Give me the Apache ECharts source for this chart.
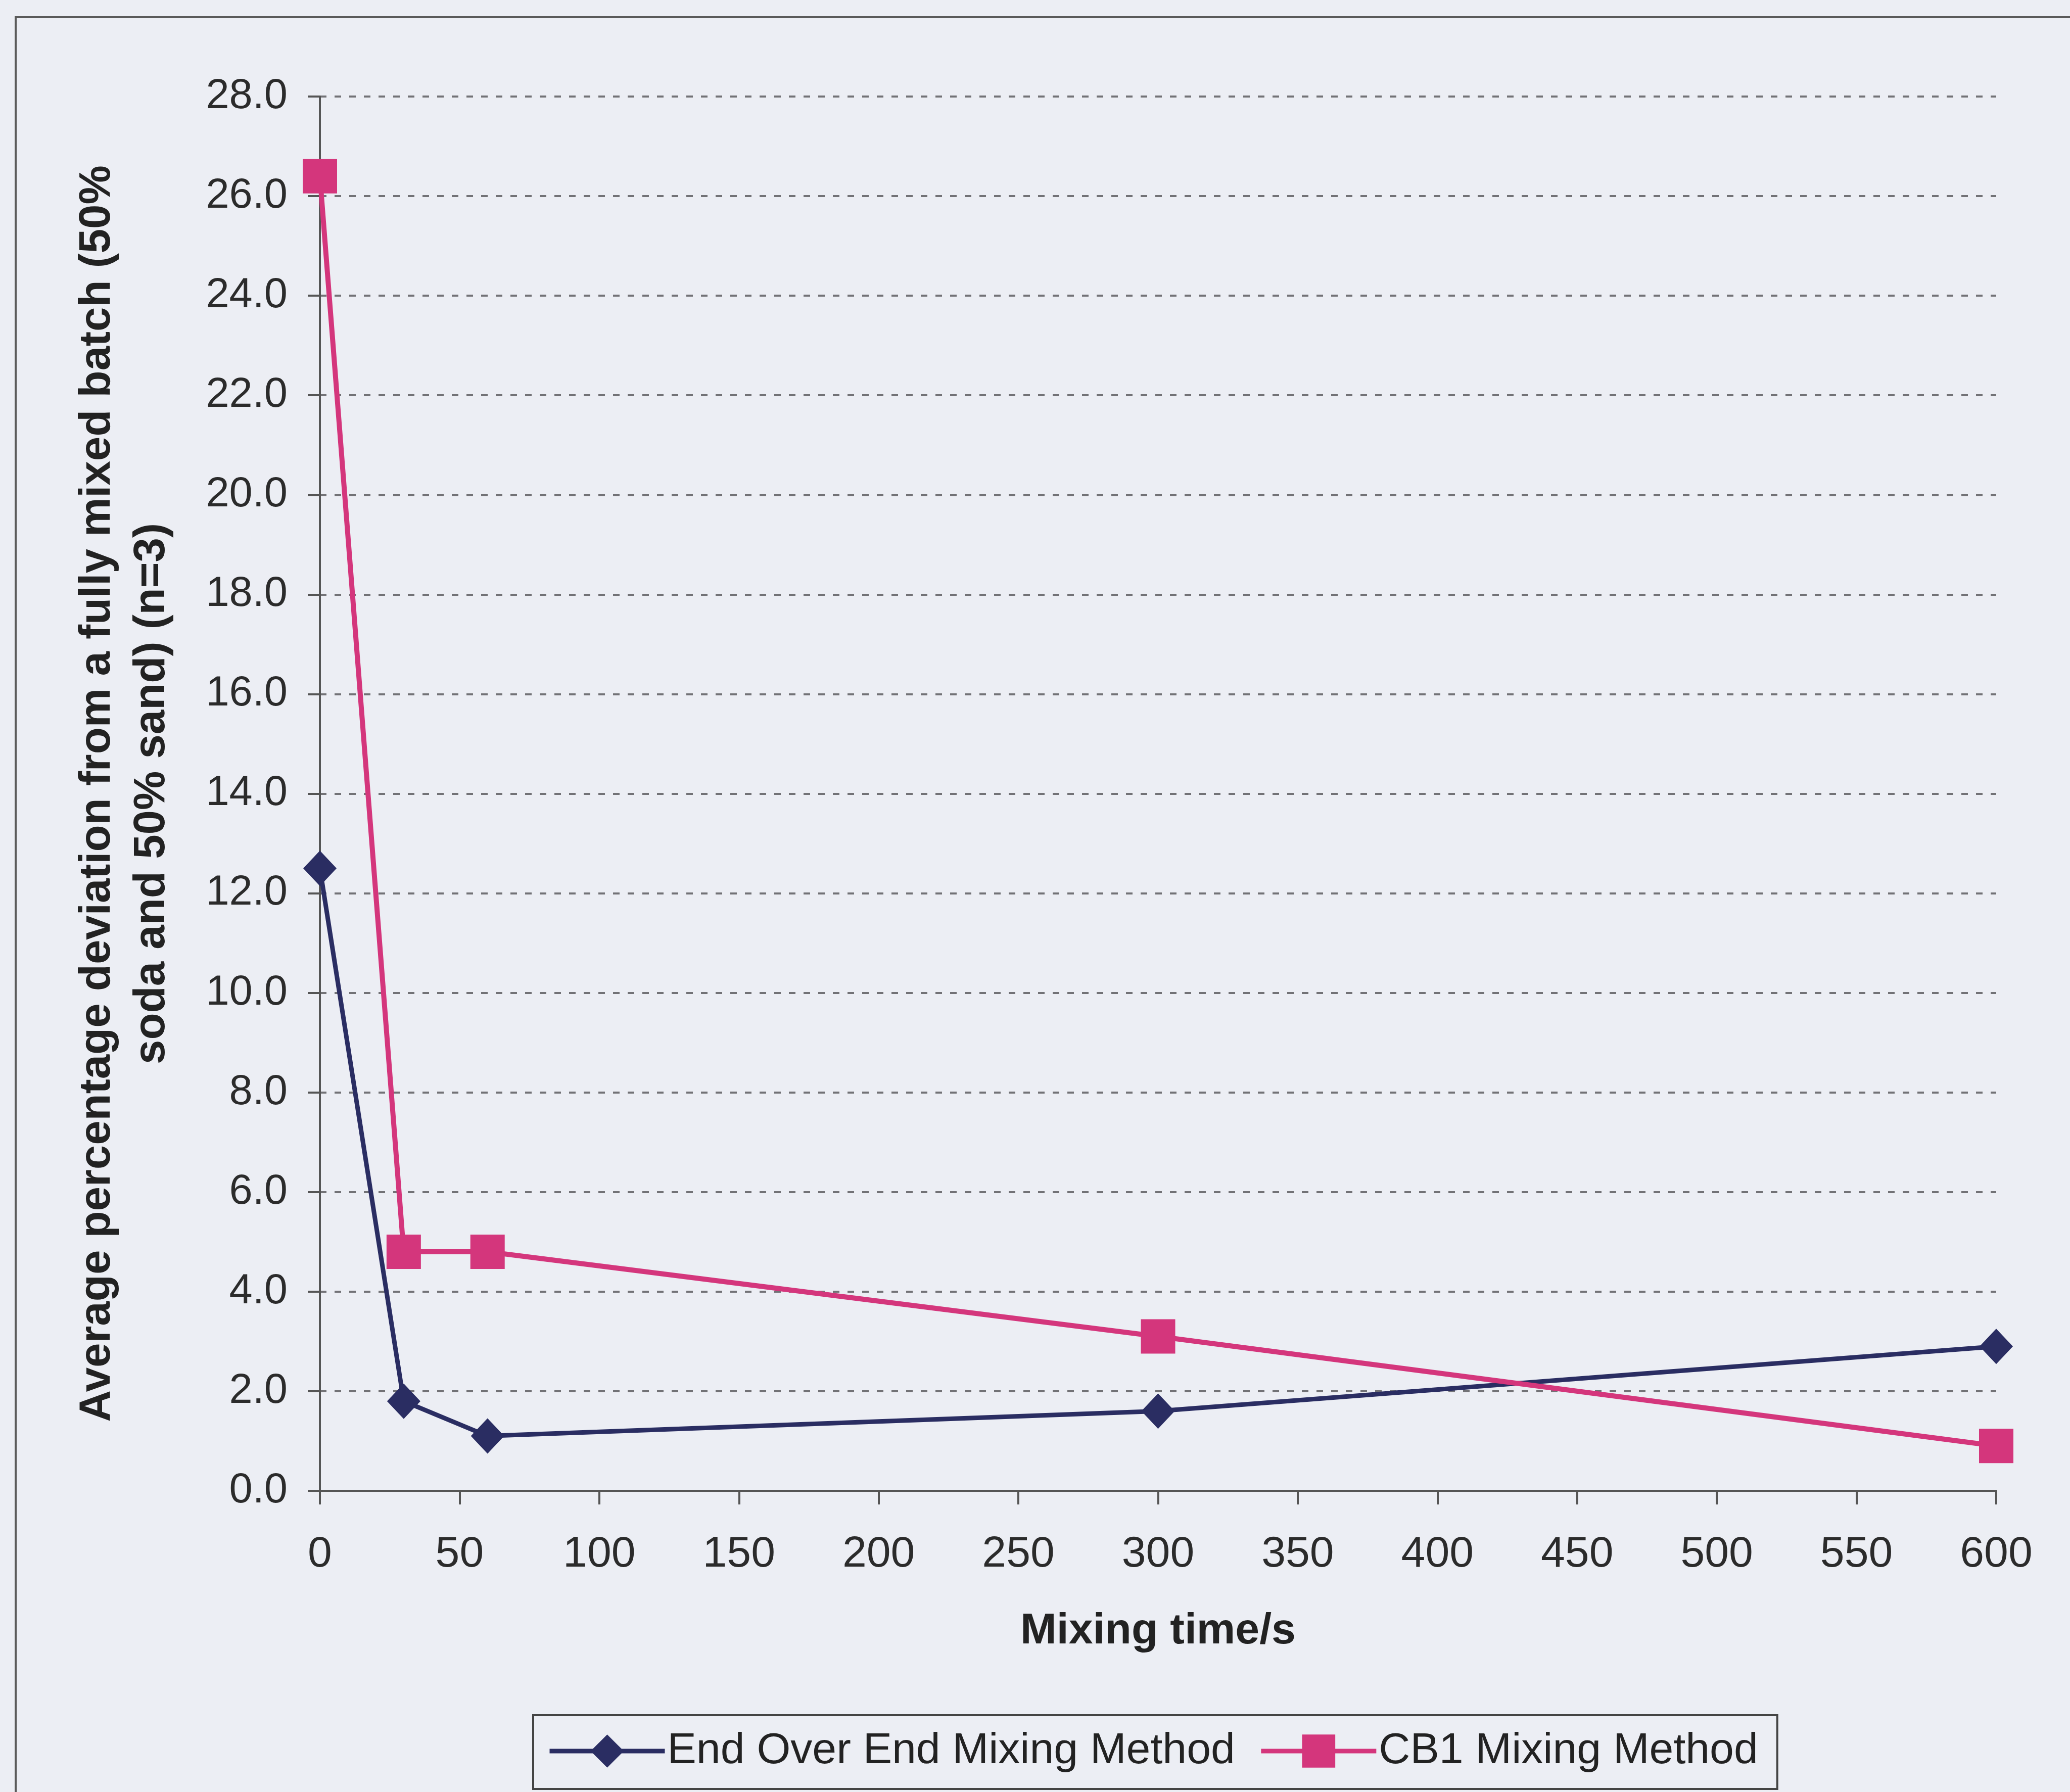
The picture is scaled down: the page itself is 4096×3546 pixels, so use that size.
<!DOCTYPE html>
<html>
<head>
<meta charset="utf-8">
<script src="https://cdn.jsdelivr.net/npm/echarts@6/dist/echarts.min.js"></script>
<style>
  html, body { margin: 0; padding: 0; background: #eceef4; }
  #chart { width: 4096px; height: 3546px; }
</style>
</head>
<body>
<div id="chart"></div>
<script>
const mixTimes = [0, 30, 60, 300, 600]
const endOverEnd = [12.5, 1.8, 1.1, 1.6, 2.9]
const cb1 = [26.4, 4.8, 4.8, 3.1, 0.9]
const seriesNames = ['End Over End Mixing Method', 'CB1 Mixing Method']
const xTitle = 'Mixing time/s'
const yTitle = 'Average percentage deviation from a fully mixed batch (50%\nsoda and 50% sand) (n=3)'

const font = "'Liberation Sans', Arial, sans-serif"
const navy = '#2a2d62'
const pink = '#d4367c'
const axisCol = '#555'

const chart = echarts.init(document.getElementById('chart'), null, { renderer: 'canvas' })

chart.setOption({
  backgroundColor: '#eceef4',
  animation: false,
  textStyle: { fontFamily: font },
  graphic: [
    {
      type: 'rect',
      shape: { x: 31, y: 34, width: 4300, height: 3700 },
      style: { fill: 'none', stroke: '#5a5a5a', lineWidth: 4 },
      z: -1,
    },
  ],
  grid: { left: 633, top: 191, width: 3317, height: 2759, outerBoundsMode: 'none' },
  legend: {
    left: 1055,
    top: 3394,
    orient: 'horizontal',
    itemWidth: 228,
    itemHeight: 82,
    itemGap: 47,
    padding: [28, 38, 32, 28],
    borderColor: '#444',
    borderWidth: 4,
    lineStyle: { width: 9 },
    textStyle: { fontSize: 86, color: '#222', fontFamily: font },
    data: seriesNames,
  },
  xAxis: {
    type: 'value',
    min: 0,
    max: 600,
    interval: 50,
    name: xTitle,
    nameLocation: 'middle',
    nameGap: 235,
    nameTextStyle: { fontSize: 86, fontWeight: 'bold', color: '#222', fontFamily: font },
    axisLine: { lineStyle: { color: axisCol, width: 4 } },
    axisTick: { show: true, length: 27, lineStyle: { color: axisCol, width: 4 } },
    axisLabel: { fontSize: 86, color: '#2b2b2b', margin: 83, fontFamily: font },
    splitLine: { show: false },
    z: 3,
  },
  yAxis: {
    type: 'value',
    min: 0,
    max: 28,
    interval: 2,
    name: yTitle,
    nameLocation: 'middle',
    nameRotate: 90,
    nameGap: 278,
    nameTextStyle: { fontSize: 87, fontWeight: 'bold', color: '#222', lineHeight: 108, fontFamily: font },
    axisLine: { show: true, lineStyle: { color: axisCol, width: 4 } },
    axisTick: { show: true, length: 24, lineStyle: { color: axisCol, width: 4 } },
    axisLabel: {
      fontSize: 83,
      color: '#2b2b2b',
      margin: 64,
      fontFamily: font,
      formatter: (v) => v.toFixed(1),
    },
    splitLine: {
      show: true,
      showMinLine: false,
      lineStyle: { color: '#727276', width: 4, type: [13, 16] },
    },
  },
  series: [
    {
      name: seriesNames[0],
      type: 'line',
      data: mixTimes.map((t, i) => [t, endOverEnd[i]]),
      symbol: 'diamond',
      symbolSize: [66, 70],
      lineStyle: { color: navy, width: 9 },
      itemStyle: { color: navy },
      z: 4,
    },
    {
      name: seriesNames[1],
      type: 'line',
      data: mixTimes.map((t, i) => [t, cb1[i]]),
      symbol: 'rect',
      symbolSize: 68,
      lineStyle: { color: pink, width: 10 },
      itemStyle: { color: pink },
      z: 5,
    },
  ],
})
</script>
</body>
</html>
